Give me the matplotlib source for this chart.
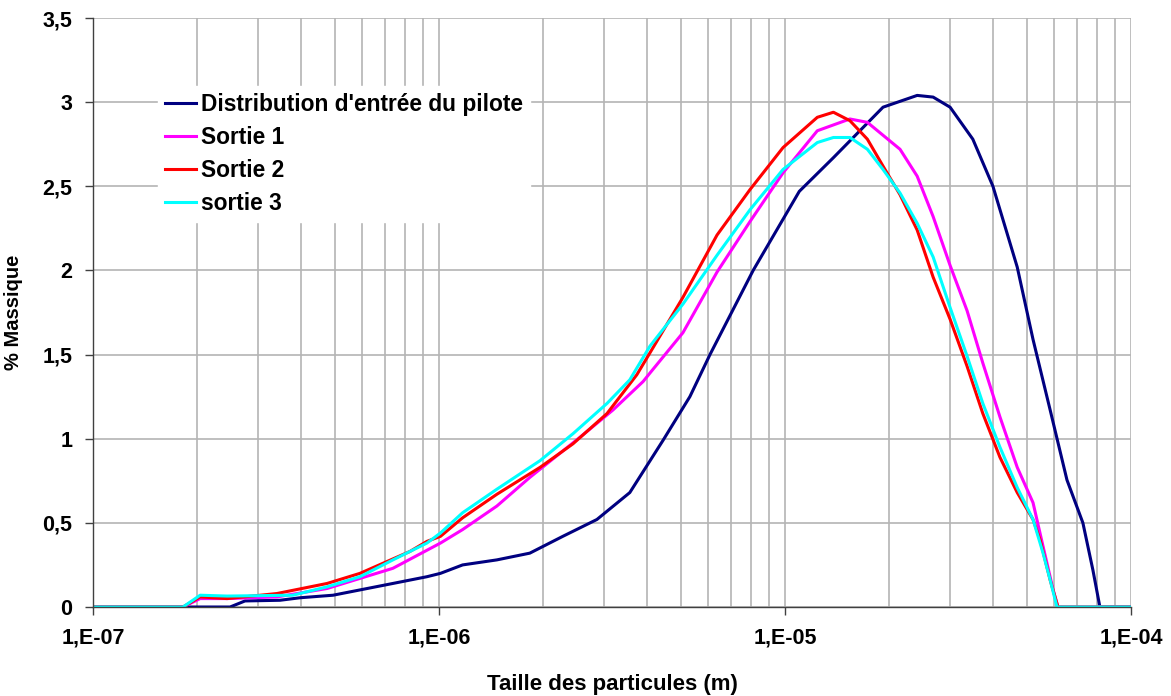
import math
import matplotlib.pyplot as plt
from matplotlib.ticker import FixedLocator, FuncFormatter, LogLocator, NullFormatter

plt.rcParams['font.family'] = ['Liberation Sans', 'DejaVu Sans']
plt.rcParams['font.weight'] = 'bold'

# particle size (m) and mass fraction (%) for each curve
taille_entree = [1e-7, 2.49e-7, 2.75e-7, 3.47e-7, 3.97e-7, 4.94e-7, 7.36e-7, 9.23e-7,
                 1.01e-6, 1.17e-6, 1.47e-6, 1.83e-6, 2.28e-6, 2.86e-6, 3.56e-6, 4.44e-6,
                 5.31e-6, 6.07e-6, 8.09e-6, 1.10e-5, 1.38e-5, 1.92e-5, 2.41e-5, 2.68e-5,
                 3.00e-5, 3.49e-5, 3.99e-5, 4.69e-5, 5.21e-5, 5.84e-5, 6.53e-5, 7.26e-5,
                 7.76e-5, 8.13e-5, 1e-4]
masse_entree = [0, 0, 0.036, 0.04, 0.055, 0.07, 0.14, 0.18,
                0.20, 0.25, 0.28, 0.32, 0.42, 0.52, 0.68, 0.99,
                1.25, 1.50, 2.0, 2.47, 2.67, 2.97, 3.04, 3.03,
                2.97, 2.78, 2.50, 2.02, 1.59, 1.17, 0.755, 0.50,
                0.22, 0, 0]

taille_s1 = [1e-7, 1.82e-7, 2.04e-7, 2.44e-7, 3.40e-7, 4.75e-7, 7.36e-7, 1.01e-6,
             1.17e-6, 1.47e-6, 1.83e-6, 2.56e-6, 3.18e-6, 3.89e-6, 4.07e-6, 5.07e-6,
             6.36e-6, 7.92e-6, 9.87e-6, 1.24e-5, 1.54e-5, 1.73e-5, 2.15e-5, 2.41e-5,
             2.68e-5, 3.00e-5, 3.36e-5, 3.73e-5, 4.18e-5, 4.69e-5, 5.21e-5, 5.57e-5,
             5.96e-5, 6.15e-5, 1e-4]
masse_s1 = [0, 0, 0.05, 0.05, 0.06, 0.11, 0.23, 0.38,
            0.46, 0.60, 0.77, 1.01, 1.17, 1.34, 1.39, 1.63,
            1.99, 2.29, 2.58, 2.83, 2.90, 2.88, 2.72, 2.56,
            2.32, 2.03, 1.76, 1.45, 1.13, 0.83, 0.62, 0.36,
            0.10, 0, 0]

taille_s2 = [1e-7, 1.82e-7, 2.04e-7, 2.44e-7, 3.40e-7, 4.75e-7, 5.91e-7, 8.24e-7,
             9.23e-7, 1.01e-6, 1.17e-6, 1.47e-6, 1.96e-6, 2.44e-6, 3.06e-6, 3.73e-6,
             4.07e-6, 5.07e-6, 6.36e-6, 7.92e-6, 9.87e-6, 1.24e-5, 1.38e-5, 1.54e-5,
             1.73e-5, 1.92e-5, 2.15e-5, 2.41e-5, 2.68e-5, 3.00e-5, 3.36e-5, 3.73e-5,
             4.18e-5, 4.69e-5, 5.21e-5, 5.46e-5, 5.84e-5, 6.15e-5, 1e-4]
masse_s2 = [0, 0, 0.06, 0.05, 0.08, 0.14, 0.20, 0.33,
            0.39, 0.42, 0.53, 0.67, 0.83, 0.97, 1.15, 1.38,
            1.51, 1.84, 2.21, 2.48, 2.73, 2.91, 2.94, 2.89,
            2.78, 2.62, 2.45, 2.24, 1.96, 1.71, 1.43, 1.15,
            0.89, 0.68, 0.52, 0.40, 0.16, 0, 0]

taille_s3 = [1e-7, 1.82e-7, 2.04e-7, 2.44e-7, 3.78e-7, 4.75e-7, 5.91e-7, 7.36e-7,
             9.23e-7, 1.01e-6, 1.17e-6, 1.47e-6, 1.96e-6, 2.44e-6, 3.06e-6, 3.56e-6,
             4.07e-6, 5.07e-6, 6.36e-6, 7.92e-6, 9.87e-6, 1.24e-5, 1.38e-5, 1.54e-5,
             1.73e-5, 1.92e-5, 2.15e-5, 2.41e-5, 2.68e-5, 3.00e-5, 3.36e-5, 3.73e-5,
             4.18e-5, 4.69e-5, 5.21e-5, 5.57e-5, 5.84e-5, 6.11e-5, 1e-4]
masse_s3 = [0, 0, 0.07, 0.065, 0.07, 0.12, 0.18, 0.28,
            0.38, 0.44, 0.56, 0.70, 0.87, 1.03, 1.21, 1.35,
            1.55, 1.80, 2.09, 2.36, 2.60, 2.76, 2.79, 2.79,
            2.72, 2.60, 2.46, 2.28, 2.08, 1.78, 1.49, 1.21,
            0.95, 0.71, 0.52, 0.32, 0.16, 0, 0]

series = [
    ("Distribution d'entrée du pilote", taille_entree, masse_entree, '#000080'),
    ("Sortie 1", taille_s1, masse_s1, '#ff00ff'),
    ("Sortie 2", taille_s2, masse_s2, '#ff0000'),
    ("sortie 3", taille_s3, masse_s3, '#00ffff'),
]

fig = plt.figure(figsize=(11.71, 6.96), dpi=100)
ax = fig.add_axes([93 / 1171, 1 - 607 / 696, 1038 / 1171, 589 / 696])

for nom, x, y, c in series:
    ax.plot(x, y, color=c, lw=2.2, label=nom, solid_joinstyle='round')

ax.set_xscale('log')
ax.set_xlim(1e-7, 1e-4)
ax.set_ylim(0, 3.5)

ax.xaxis.set_major_locator(LogLocator(base=10, numticks=10))
ax.xaxis.set_minor_locator(LogLocator(base=10, subs=range(2, 10), numticks=20))
ax.xaxis.set_minor_formatter(NullFormatter())
ax.xaxis.set_major_formatter(FuncFormatter(lambda v, p: '1,E-%02d' % round(-math.log10(v))))
ax.yaxis.set_major_locator(FixedLocator([0, 0.5, 1, 1.5, 2, 2.5, 3, 3.5]))
ax.yaxis.set_major_formatter(FuncFormatter(lambda v, p: ('%g' % v).replace('.', ',')))

ax.grid(True, which='both', axis='x', color='#b4b4b4', lw=1.2)
ax.grid(True, which='major', axis='y', color='#b4b4b4', lw=1.2)
ax.set_axisbelow(True)

for s in ['top', 'right']:
    ax.spines[s].set_visible(False)
for s in ['left', 'bottom']:
    ax.spines[s].set_color('#404040')
    ax.spines[s].set_linewidth(1.0)

ax.tick_params(which='major', length=6, width=1, color='#404040', labelsize=15.5, pad=9)
ax.tick_params(which='minor', length=0)

ax.set_xlabel('Taille des particules (m)', fontsize=16, fontweight='bold', labelpad=18)
ax.set_ylabel('% Massique', fontsize=14.5, fontweight='bold', labelpad=14)

leg = ax.legend(loc='upper left', bbox_to_anchor=(0.0626, 0.885), frameon=True,
                fontsize=16.4, handlelength=1.35, handletextpad=0.25, labelspacing=0.45,
                borderpad=0.3, borderaxespad=0, fancybox=False)
leg.get_frame().set_edgecolor('white')
leg.get_frame().set_facecolor('white')
leg.get_frame().set_alpha(1)
for t in leg.get_texts():
    t.set_fontweight('bold')

fig.savefig('out.png', dpi=100)
